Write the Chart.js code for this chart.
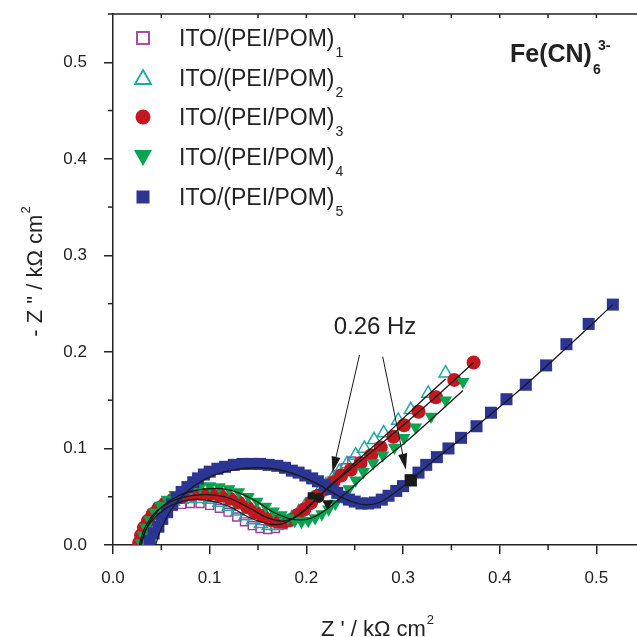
<!DOCTYPE html>
<html><head><meta charset="utf-8">
<script src="https://cdn.jsdelivr.net/npm/chart.js@4.4.1/dist/chart.umd.min.js"></script>
<style>html,body{margin:0;padding:0;background:#fff}#wrap{width:637px;height:637px}</style>
</head><body><div id="wrap"><canvas id="c" width="637" height="637"></canvas></div>
<script>
// ---- data (Z' , -Z'' in kOhm cm2) ----
const seriesNames = ['ITO/(PEI/POM)', 'ITO/(PEI/POM)', 'ITO/(PEI/POM)', 'ITO/(PEI/POM)', 'ITO/(PEI/POM)'];
const seriesSubs = ['1', '2', '3', '4', '5'];

const x1 = [0.027,0.029,0.032,0.036,0.041,0.047,0.054,0.062,0.071,0.080,0.090,0.100,0.110,0.119,0.128,0.136,0.144,0.152,0.160,0.168,0.176,0.184,0.191,0.198,0.205,0.212,0.219,0.226,0.233,0.240,0.247];
const y1 = [0.002,0.009,0.016,0.022,0.028,0.033,0.037,0.040,0.042,0.043,0.043,0.041,0.038,0.034,0.029,0.024,0.020,0.017,0.016,0.017,0.021,0.026,0.032,0.038,0.045,0.052,0.059,0.066,0.073,0.080,0.087];

const x2 = [0.027,0.029,0.032,0.036,0.041,0.047,0.054,0.062,0.071,0.080,0.090,0.100,0.110,0.120,0.129,0.137,0.145,0.153,0.161,0.169,0.177,0.185,0.192,0.199,0.206,0.213,0.220,0.227,0.234,0.242,0.251,0.260,0.270,0.280,0.295,0.308,0.326,0.344];
const y2 = [0.002,0.010,0.018,0.025,0.031,0.037,0.042,0.045,0.047,0.048,0.048,0.047,0.044,0.040,0.035,0.030,0.026,0.022,0.020,0.020,0.023,0.028,0.034,0.041,0.048,0.055,0.062,0.069,0.076,0.084,0.093,0.100,0.109,0.116,0.129,0.140,0.157,0.178];

const x3 = [0.027,0.029,0.032,0.036,0.041,0.047,0.054,0.062,0.071,0.081,0.091,0.101,0.111,0.121,0.130,0.139,0.147,0.155,0.163,0.170,0.177,0.184,0.191,0.198,0.205,0.212,0.220,0.228,0.236,0.246,0.256,0.267,0.277,0.290,0.301,0.316,0.334,0.353,0.373];
const y3 = [0.002,0.010,0.018,0.025,0.032,0.038,0.043,0.047,0.050,0.052,0.053,0.053,0.051,0.048,0.044,0.039,0.034,0.030,0.026,0.024,0.024,0.026,0.031,0.037,0.044,0.051,0.058,0.065,0.072,0.078,0.085,0.093,0.101,0.112,0.124,0.138,0.153,0.171,0.189];

const x4 = [0.029,0.031,0.034,0.038,0.043,0.049,0.056,0.064,0.072,0.081,0.090,0.100,0.110,0.120,0.130,0.140,0.149,0.158,0.166,0.174,0.181,0.188,0.195,0.202,0.209,0.216,0.223,0.230,0.237,0.244,0.251,0.259,0.269,0.279,0.291,0.301,0.313,0.329,0.344,0.362];
const y4 = [0.002,0.010,0.018,0.026,0.034,0.041,0.047,0.052,0.056,0.058,0.060,0.061,0.060,0.058,0.055,0.050,0.045,0.040,0.035,0.031,0.028,0.025,0.024,0.025,0.028,0.032,0.037,0.043,0.050,0.058,0.067,0.076,0.085,0.093,0.101,0.111,0.122,0.133,0.150,0.169];

const x5 = [0.038,0.042,0.047,0.051,0.056,0.061,0.066,0.071,0.077,0.083,0.088,0.094,0.100,0.108,0.116,0.125,0.134,0.143,0.152,0.161,0.170,0.178,0.185,0.192,0.199,0.206,0.212,0.219,0.226,0.232,0.238,0.244,0.250,0.257,0.264,0.271,0.278,0.285,0.293,0.300,0.308,0.316,0.324,0.335,0.347,0.360,0.376,0.391,0.407,0.427,0.448,0.469,0.492,0.517];
const y5 = [0.004,0.012,0.019,0.027,0.034,0.042,0.049,0.055,0.060,0.065,0.069,0.073,0.076,0.079,0.081,0.083,0.084,0.084,0.084,0.083,0.082,0.080,0.077,0.075,0.072,0.069,0.066,0.062,0.058,0.054,0.050,0.047,0.045,0.043,0.043,0.044,0.047,0.051,0.056,0.061,0.067,0.075,0.083,0.091,0.100,0.111,0.123,0.137,0.151,0.166,0.186,0.208,0.229,0.249];

// fitted curves (black lines)
const fx2 = [0.028,0.034,0.045,0.060,0.080,0.100,0.120,0.140,0.160,0.175,0.190,0.210,0.240,0.280,0.320,0.344];
const fy2 = [0.000,0.016,0.030,0.041,0.047,0.046,0.040,0.029,0.022,0.022,0.030,0.048,0.076,0.112,0.150,0.172];
const fx3 = [0.027,0.033,0.045,0.065,0.090,0.115,0.140,0.160,0.178,0.195,0.215,0.240,0.280,0.330,0.373];
const fy3 = [0.000,0.018,0.035,0.047,0.052,0.050,0.039,0.028,0.025,0.033,0.052,0.074,0.107,0.150,0.189];
const fx4 = [0.029,0.036,0.050,0.070,0.095,0.120,0.145,0.170,0.195,0.215,0.240,0.270,0.310,0.362];
const fy4 = [0.000,0.020,0.039,0.052,0.058,0.057,0.047,0.032,0.026,0.033,0.053,0.080,0.113,0.160];
const fx5 = [0.044,0.050,0.060,0.075,0.095,0.120,0.150,0.180,0.210,0.235,0.258,0.275,0.290,0.308,0.330,0.360,0.420,0.470,0.517];
const fy5 = [0.000,0.017,0.036,0.054,0.068,0.077,0.080,0.076,0.064,0.050,0.042,0.044,0.053,0.067,0.086,0.110,0.160,0.205,0.249];

// 0.26 Hz points (black)
const mx = [0.205,0.213,0.222,0.308];
const my = [0.051,0.049,0.043,0.067];

// axis ticks
const xMajor = [0, 0.1, 0.2, 0.3, 0.4, 0.5];
const xMinor = [0.05, 0.15, 0.25, 0.35, 0.45];
const yMinor = [0.05, 0.15, 0.25, 0.35, 0.45, 0.55];
const X_MAX = 0.542, Y_MAX = 0.55;

// annotation positions (data units)
const hzLabel = {x: 0.271, y: 0.225, text: '0.26 Hz'};
const arrows = [
  {x0: 0.255, y0: 0.197, x1: 0.227, y1: 0.075},
  {x0: 0.279, y0: 0.195, x1: 0.303, y1: 0.078}
];

const C_PURPLE = '#9c3d99', C_CYAN = '#1ea7a6', C_RED = '#c3161f', C_GREEN = '#07a550', C_BLUE = '#2c3593';
const FONT = '"Liberation Sans", Arial, Helvetica, sans-serif';

const zip = (xs, ys) => xs.map((v, i) => ({x: v, y: ys[i]}));

const fitDs = (xs, ys) => ({
  type: 'line', data: zip(xs, ys), showLine: true, borderColor: '#1a1a1a', borderWidth: 1.3,
  pointRadius: 0, tension: 0.4, fill: false, order: 0
});

const datasets = [
  {data: zip(x1, y1), pointStyle: 'rect', pointRadius: 5.6, borderColor: C_PURPLE, backgroundColor: 'rgba(0,0,0,0)', pointBorderWidth: 1.4, order: 5},
  {data: zip(x2, y2), pointStyle: 'triangle', pointRadius: 7.5, borderColor: C_CYAN, backgroundColor: 'rgba(0,0,0,0)', pointBorderWidth: 1.5, order: 4},
  {data: zip(x3, y3), pointStyle: 'circle', pointRadius: 7, borderColor: C_RED, backgroundColor: C_RED, pointBorderWidth: 0, order: 3},
  {data: zip(x4, y4), pointStyle: 'triangle', rotation: 180, pointRadius: 7.5, borderColor: C_GREEN, backgroundColor: C_GREEN, pointBorderWidth: 0, order: 2},
  {data: zip(x5, y5), pointStyle: 'rect', pointRadius: 8.5, borderColor: C_BLUE, backgroundColor: C_BLUE, pointBorderWidth: 0, order: 1},
  fitDs(fx2, fy2), fitDs(fx3, fy3), fitDs(fx4, fy4), fitDs(fx5, fy5),
  {data: zip(mx, my), pointStyle: ['rect', 'circle', 'triangle', 'rect'], rotation: [0, 0, 180, 0],
   pointRadius: [5, 5, 6.5, 8.5], borderColor: '#1a1a1a', backgroundColor: '#1a1a1a', pointBorderWidth: 0, order: -1}
];

function txtSup(ctx, x, y, main, sup, mainFont, supFont, dy, align) {
  ctx.font = mainFont;
  const w1 = ctx.measureText(main).width;
  ctx.font = supFont;
  const w2 = ctx.measureText(sup).width;
  let sx = align === 'center' ? x - (w1 + w2) / 2 : x;
  ctx.textAlign = 'left';
  ctx.font = mainFont; ctx.fillText(main, sx, y);
  ctx.font = supFont; ctx.fillText(sup, sx + w1 + 1, y + dy);
}

const deco = {
  id: 'deco',
  afterDraw(chart) {
    const {ctx, chartArea: a, scales: {x, y}} = chart;
    ctx.save();
    ctx.strokeStyle = '#222'; ctx.lineWidth = 1.5;
    ctx.beginPath(); ctx.moveTo(a.left, a.top); ctx.lineTo(a.right, a.top); ctx.stroke();
    xMinor.forEach(v => { const p = x.getPixelForValue(v); ctx.beginPath(); ctx.moveTo(p, a.bottom); ctx.lineTo(p, a.bottom + 5); ctx.stroke(); });
    xMajor.concat(xMinor).forEach(v => { const p = x.getPixelForValue(v); if (v === 0) return; ctx.beginPath(); ctx.moveTo(p, a.top); ctx.lineTo(p, a.top + 4); ctx.stroke(); });
    yMinor.forEach(v => { const p = y.getPixelForValue(v); ctx.beginPath(); ctx.moveTo(a.left, p); ctx.lineTo(a.left - 5, p); ctx.stroke(); });

    // arrows
    ctx.strokeStyle = '#1a1a1a'; ctx.fillStyle = '#1a1a1a'; ctx.lineWidth = 1;
    arrows.forEach(ar => {
      const X0 = x.getPixelForValue(ar.x0), Y0 = y.getPixelForValue(ar.y0);
      const X1 = x.getPixelForValue(ar.x1), Y1 = y.getPixelForValue(ar.y1);
      const ang = Math.atan2(Y1 - Y0, X1 - X0);
      const L = 16, W = 4.5;
      const bx = X1 - L * Math.cos(ang), by = Y1 - L * Math.sin(ang);
      ctx.beginPath(); ctx.moveTo(X0, Y0); ctx.lineTo(bx, by); ctx.stroke();
      ctx.beginPath(); ctx.moveTo(X1, Y1);
      ctx.lineTo(bx + W * Math.sin(ang), by - W * Math.cos(ang));
      ctx.lineTo(bx - W * Math.sin(ang), by + W * Math.cos(ang));
      ctx.closePath(); ctx.fill();
    });

    ctx.fillStyle = '#222';
    ctx.textBaseline = 'middle'; ctx.textAlign = 'center';
    ctx.font = '24px ' + FONT;
    ctx.fillText(hzLabel.text, x.getPixelForValue(hzLabel.x), y.getPixelForValue(hzLabel.y));

    ctx.textBaseline = 'alphabetic';
    ctx.font = 'bold 25px ' + FONT; ctx.textAlign = 'left';
    ctx.fillText('Fe(CN)', 510, 62);
    const wfe = ctx.measureText('Fe(CN)').width;
    ctx.font = 'bold 14px ' + FONT;
    ctx.fillText('6', 510 + wfe + 1, 74);
    ctx.fillText('3-', 510 + wfe + 6, 50);

    txtSup(ctx, 377, 636, "Z ' / k\u03A9 cm", '2', '22px ' + FONT, '13px ' + FONT, -12, 'center');
    ctx.save();
    ctx.translate(42, 272); ctx.rotate(-Math.PI / 2);
    txtSup(ctx, 0, 0, '- Z " / k\u03A9 cm', '2', '22px ' + FONT, '13px ' + FONT, -12, 'center');
    ctx.restore();

    const rows = [38, 78, 117, 157, 197];
    const mxp = 143;
    rows.forEach((ry, i) => {
      ctx.lineWidth = 1.8;
      if (i === 0) { ctx.strokeStyle = C_PURPLE; ctx.strokeRect(mxp - 6, ry - 6, 12, 12); }
      if (i === 1) { ctx.strokeStyle = C_CYAN; ctx.beginPath(); ctx.moveTo(mxp, ry - 8); ctx.lineTo(mxp + 8, ry + 6); ctx.lineTo(mxp - 8, ry + 6); ctx.closePath(); ctx.stroke(); }
      if (i === 2) { ctx.fillStyle = C_RED; ctx.beginPath(); ctx.arc(mxp, ry, 7.5, 0, Math.PI * 2); ctx.fill(); }
      if (i === 3) { ctx.fillStyle = C_GREEN; ctx.beginPath(); ctx.moveTo(mxp - 9, ry - 7); ctx.lineTo(mxp + 9, ry - 7); ctx.lineTo(mxp, ry + 9); ctx.closePath(); ctx.fill(); }
      if (i === 4) { ctx.fillStyle = C_BLUE; ctx.fillRect(mxp - 6.5, ry - 6.5, 13, 13); }
      ctx.fillStyle = '#222';
      ctx.textAlign = 'left';
      ctx.font = '23px ' + FONT;
      ctx.fillText(seriesNames[i], 179, ry + 8);
      const w = ctx.measureText(seriesNames[i]).width;
      ctx.font = '14px ' + FONT;
      ctx.fillText(seriesSubs[i], 179 + w + 1, ry + 19);
    });
    ctx.restore();
  }
};

const zeroPad = s => { s.paddingTop = 0; s.paddingBottom = 0; s.paddingLeft = 0; s.paddingRight = 0; };

new Chart(document.getElementById('c'), {
  type: 'scatter',
  data: {datasets},
  options: {
    responsive: false, animation: false, devicePixelRatio: 1,
    layout: {autoPadding: false, padding: {top: 14, right: 0, left: 0, bottom: 0}},
    plugins: {legend: {display: false}, tooltip: {enabled: false}},
    elements: {point: {hoverRadius: 0}},
    scales: {
      x: {
        type: 'linear', min: 0, max: X_MAX,
        afterFit: s => { s.height = 92; zeroPad(s); },
        grid: {display: true, drawOnChartArea: false, drawTicks: true, tickLength: 9, color: '#222', lineWidth: 1.5},
        border: {display: true, color: '#222', width: 1.5},
        ticks: {stepSize: 0.1, includeBounds: false, padding: 14, color: '#222', font: {family: FONT, size: 17},
          callback: v => (Math.abs(v * 10 - Math.round(v * 10)) < 1e-6 ? v.toFixed(1) : '')}
      },
      y: {
        type: 'linear', min: 0, max: Y_MAX,
        afterFit: s => { s.width = 113; zeroPad(s); },
        grid: {display: true, drawOnChartArea: false, drawTicks: true, tickLength: 9, color: '#222', lineWidth: 1.5},
        border: {display: true, color: '#222', width: 1.5},
        ticks: {stepSize: 0.1, includeBounds: false, padding: 17, color: '#222', font: {family: FONT, size: 17},
          callback: v => (Math.abs(v * 10 - Math.round(v * 10)) < 1e-6 ? v.toFixed(1) : '')}
      }
    }
  },
  plugins: [deco]
});
</script></body></html>
